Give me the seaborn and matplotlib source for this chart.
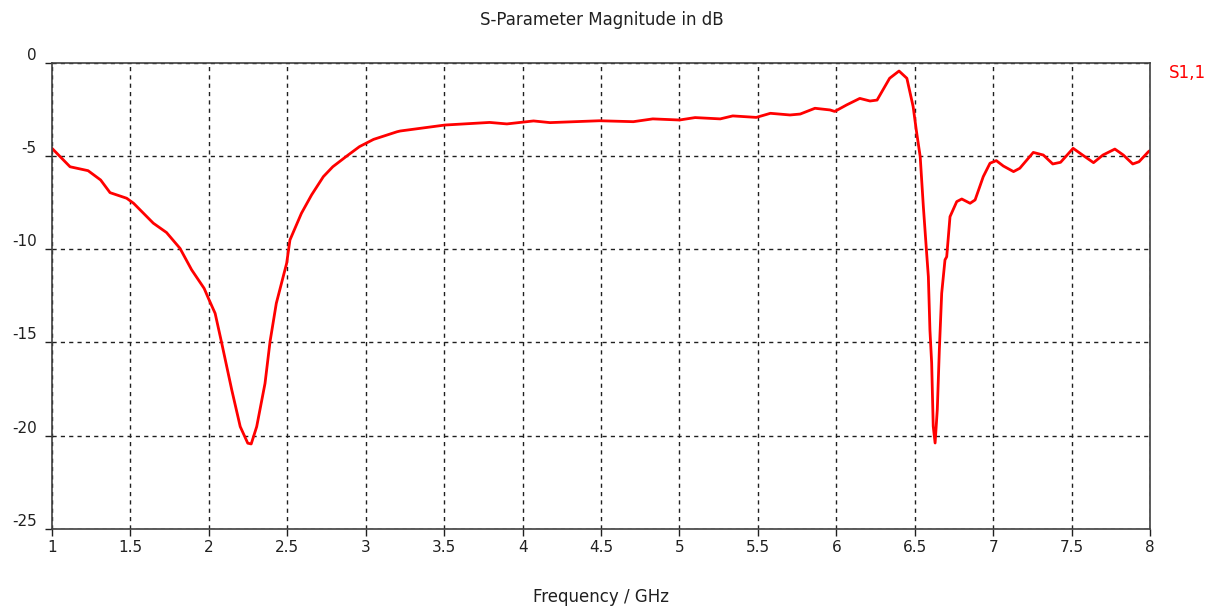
import numpy as np
import pandas as pd
import matplotlib
matplotlib.use("Agg")
import matplotlib.pyplot as plt
import seaborn as sns

# S11 trace (GHz, dB)
freq_ghz = [
    1.0, 1.115, 1.23, 1.31, 1.37, 1.476, 1.52, 1.646, 1.73, 1.816, 1.89, 1.97,
    1.997, 2.04, 2.08, 2.146, 2.2, 2.248, 2.27, 2.305, 2.358, 2.39, 2.43, 2.496,
    2.517, 2.59, 2.655, 2.73, 2.79, 2.88, 2.96, 3.05, 3.2, 3.22, 3.505, 3.79,
    3.9, 4.07, 4.175, 4.49, 4.706, 4.83, 5.0, 5.1, 5.26, 5.34, 5.49, 5.58,
    5.705, 5.77, 5.864, 5.96, 5.99, 6.066, 6.15, 6.215, 6.26, 6.34, 6.40,
    6.45, 6.49, 6.51, 6.535, 6.555, 6.576, 6.587, 6.597, 6.608, 6.618, 6.63,
    6.644, 6.657, 6.672, 6.693, 6.704, 6.725, 6.768, 6.8, 6.853, 6.885, 6.937,
    6.98, 7.02, 7.065, 7.13, 7.17, 7.256, 7.32, 7.38, 7.43, 7.51, 7.57, 7.64,
    7.70, 7.776, 7.83, 7.89, 7.93, 7.99, 8.0,
]
s11_db = [
    -4.58, -5.57, -5.78, -6.28, -6.96, -7.26, -7.53, -8.6, -9.1, -9.95, -11.1, -12.1,
    -12.63, -13.44, -14.96, -17.55, -19.52, -20.41, -20.45, -19.52, -17.2, -14.96, -12.9, -10.75,
    -9.5, -8.07, -7.08, -6.1, -5.57, -4.99, -4.49, -4.1, -3.69, -3.65, -3.33, -3.19,
    -3.27, -3.11, -3.2, -3.1, -3.15, -3.0, -3.06, -2.93, -3.0, -2.84, -2.92, -2.7,
    -2.79, -2.74, -2.43, -2.52, -2.6, -2.25, -1.9, -2.04, -1.99, -0.82, -0.43,
    -0.82, -2.34, -3.6, -5.03, -7.7, -10.2, -11.47, -14.33, -16.1, -19.5, -20.4,
    -18.6, -15.4, -12.36, -10.57, -10.4, -8.25, -7.44, -7.3, -7.53, -7.35, -6.1,
    -5.38, -5.24, -5.53, -5.83, -5.65, -4.8, -4.94, -5.42, -5.33, -4.58, -4.94, -5.35,
    -4.94, -4.62, -4.94, -5.42, -5.3, -4.76, -4.7,
]

x_ticks = [1, 1.5, 2, 2.5, 3, 3.5, 4, 4.5, 5, 5.5, 6, 6.5, 7, 7.5, 8]
y_ticks = [0, -5, -10, -15, -20, -25]

df = pd.DataFrame({"freq": freq_ghz, "s11": s11_db})

sns.set_style("white")
plt.rcParams["font.family"] = ["DejaVu Sans"]

fig = plt.figure(figsize=(12.15, 6.07), dpi=100)
ax = fig.add_axes([0.0428, 0.129, 0.9037, 0.7672])
ax.set_axisbelow(True)

sns.lineplot(data=df, x="freq", y="s11", sort=False, color="#ff0000",
             linewidth=2, ax=ax)

ax.set_xlim(1, 8)
ax.set_ylim(-25, 0)
ax.set_xticks(x_ticks)
ax.set_xticklabels([f"{t:g}" for t in x_ticks])
ax.set_yticks(y_ticks)
ax.set_yticklabels([f"{t:g}" for t in y_ticks], va="bottom")

ax.grid(True, color="#202020", linestyle=(0, (3, 3)), linewidth=1)
for s in ax.spines.values():
    s.set_color("#404040")
    s.set_linewidth(1.2)
    s.set_zorder(3)

ax.tick_params(axis="both", which="both", direction="out", length=5,
               width=1, color="#202020", labelsize=11, labelcolor="#202020",
               bottom=True, left=True)
ax.tick_params(axis="y", pad=6)
ax.tick_params(axis="x", pad=3)

ax.set_xlabel("")
ax.set_ylabel("")
fig.text(0.495, 0.016, "Frequency / GHz", ha="center", va="center",
         fontsize=12, color="#202020")
fig.text(0.4955, 0.967, "S-Parameter Magnitude in dB", ha="center", va="center",
         fontsize=12, color="#202020")
fig.text(0.962, 0.88, "S1,1", ha="left", va="center", fontsize=12, color="#ff0000")

fig.savefig("out.png", dpi=100, facecolor="white")
